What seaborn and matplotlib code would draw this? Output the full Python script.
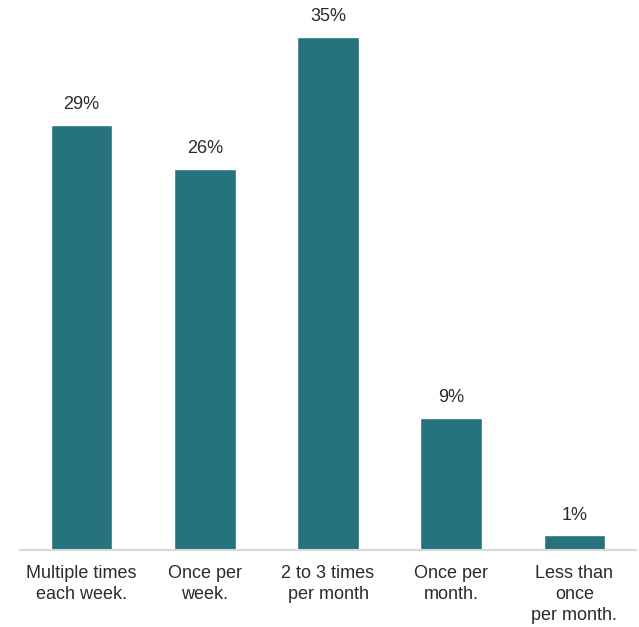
import matplotlib
matplotlib.use("Agg")
import matplotlib.pyplot as plt
import seaborn as sns
import pandas as pd

categories = ["Multiple times\neach week.", "Once per\nweek.", "2 to 3 times\nper month",
              "Once per\nmonth.", "Less than\nonce\nper month."]
values = [29, 26, 35, 9, 1]
labels = ["29%", "26%", "35%", "9%", "1%"]

sns.set_theme(style="white")
plt.rcParams["font.family"] = ["Liberation Sans", "DejaVu Sans"]

df = pd.DataFrame({"freq": categories, "pct": values})

fig = plt.figure(figsize=(6.39, 6.27), dpi=100)
ax = fig.add_axes([20 / 639, 1 - 550 / 627, 616 / 639, 550 / 627])

sns.barplot(data=df, x="freq", y="pct", color="#26737E", saturation=1, width=0.5, ax=ax)

ax.set_ylim(0, 37.5)
ax.set_xlim(-0.5, len(categories) - 0.5)
ax.set_xlabel("")
ax.set_ylabel("")
ax.set_yticks([])
for side in ["top", "right", "left"]:
    ax.spines[side].set_visible(False)
ax.spines["bottom"].set_color("#d9d9d9")
ax.spines["bottom"].set_linewidth(1.5)

ax.tick_params(axis="x", length=0, pad=11, labelsize=13, colors="#2b2b2b")
for t in ax.get_xticklabels():
    t.set_linespacing(1.3)

for i, (v, lab) in enumerate(zip(values, labels)):
    ax.annotate(lab, (i, v), xytext=(0, 8.5), textcoords="offset points",
                ha="center", va="bottom", fontsize=13, color="#2b2b2b")

fig.savefig("out.png", dpi=100)
